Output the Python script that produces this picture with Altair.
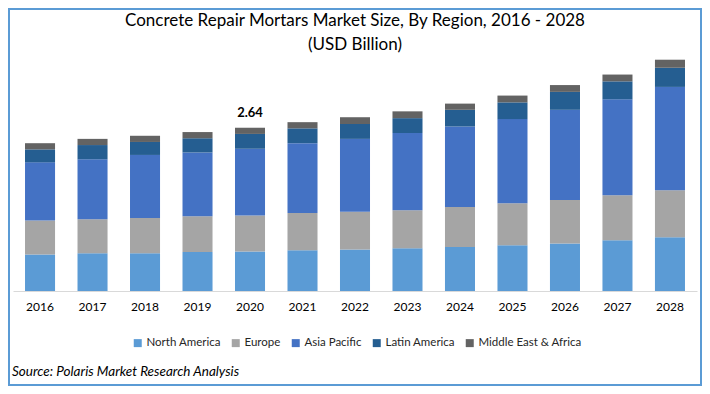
import altair as alt
import pandas as pd

years = ["2016", "2017", "2018", "2019", "2020", "2021", "2022",
         "2023", "2024", "2025", "2026", "2027", "2028"]
regions = ["North America", "Europe", "Asia Pacific", "Latin America", "Middle East & Africa"]
colors = ["#5B9BD5", "#A5A5A5", "#4472C4", "#255E91", "#636363"]

north_america = [0.59, 0.61, 0.61, 0.63, 0.64, 0.66, 0.67, 0.69, 0.71, 0.74, 0.77, 0.82, 0.87]
europe        = [0.55, 0.55, 0.57, 0.58, 0.58, 0.60, 0.61, 0.615, 0.65, 0.68, 0.70, 0.73, 0.76]
asia_pacific  = [0.94, 0.97, 1.02, 1.03, 1.08, 1.13, 1.18, 1.25, 1.30, 1.36, 1.46, 1.55, 1.67]
latin_america = [0.21, 0.23, 0.21, 0.23, 0.24, 0.24, 0.24, 0.24, 0.27, 0.27, 0.29, 0.29, 0.31]
middle_east_africa = [0.10, 0.10, 0.10, 0.10, 0.10, 0.10, 0.11, 0.11, 0.10, 0.11, 0.11, 0.11, 0.13]

label_years = ["2020"]
label_values = [2.64]
label_texts = ["2.64"]

series = [north_america, europe, asia_pacific, latin_america, middle_east_africa]
rows = []
for ri, (name, vals) in enumerate(zip(regions, series)):
    for y, v in zip(years, vals):
        rows.append({"Year": y, "Region": name, "Value": v, "order": ri})
df = pd.DataFrame(rows)
lab = pd.DataFrame({"Year": label_years, "Value": label_values, "Text": label_texts})

W, H = 684, 235

xenc = alt.X("Year:N", sort=years,
             scale=alt.Scale(paddingInner=0.428, paddingOuter=0.229),
             axis=alt.Axis(title=None, labelAngle=0, ticks=False, labelPadding=10,
                           domainColor="#D9D9D9", labelFont="Lato", labelFontSize=12,
                           labelColor="#000000", grid=False))

bars = alt.Chart(df).mark_bar().encode(
    x=xenc,
    y=alt.Y("Value:Q", stack="zero", scale=alt.Scale(domain=[0, 3.8], nice=False), axis=None),
    color=alt.Color("Region:N", sort=regions,
                    scale=alt.Scale(domain=regions, range=colors),
                    legend=alt.Legend(title=None, orient="none", direction="horizontal",
                                      legendX=119, legendY=281, symbolType="square",
                                      symbolSize=64, symbolStrokeWidth=0, labelFont="Lato",
                                      labelFontSize=11.5, labelColor="#262626",
                                      labelOffset=3, columnPadding=9)),
    order=alt.Order("order:Q"),
)

label = alt.Chart(lab).mark_text(font="Lato", fontSize=13, fontWeight="bold",
                                 baseline="bottom", dy=-8, color="#000000").encode(
    x=alt.X("Year:N", sort=years),
    y=alt.Y("Value:Q"),
    text="Text:N",
)

source = alt.Chart(alt.Data(values=[{"t": "Source: Polaris Market Research Analysis"}])).mark_text(
    font="Lato", fontSize=13.5, fontStyle="italic", align="left", baseline="middle", color="#000000"
).encode(x=alt.value(-1), y=alt.value(316), text="t:N")

border = alt.Chart(alt.Data(values=[{}])).mark_rect(
    fill=None, stroke="#5B9BD5", strokeWidth=2
).encode(x=alt.value(-4), x2=alt.value(688), y=alt.value(-47), y2=alt.value(329))

chart = alt.layer(bars, label, source, border).properties(
    width=W, height=H,
    title=alt.TitleParams(
        text=["Concrete Repair Mortars Market Size, By Region, 2016 - 2028", "(USD Billion)"],
        font="Lato", fontSize=17, fontWeight="normal", color="#000000",
        anchor="middle", lineHeight=24, offset=-46),
    autosize=alt.AutoSizeParams(type="none"),
    padding={"left": 5, "right": 5, "top": 48, "bottom": 95},
).configure_view(stroke=None)

chart.save("out.html", embed_options={"renderer": "svg", "actions": False})
